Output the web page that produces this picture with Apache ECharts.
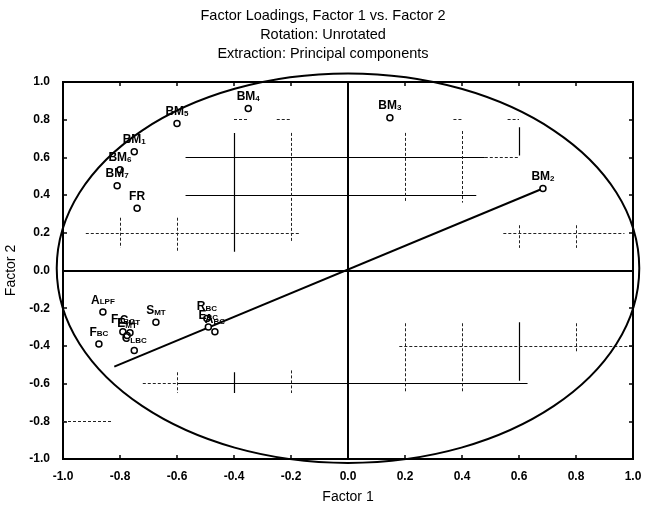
<!DOCTYPE html>
<html>
<head>
<meta charset="utf-8">
<script src="https://cdn.jsdelivr.net/npm/echarts@6/dist/echarts.min.js"></script>
<style>
  html, body { margin: 0; padding: 0; background: #fff; }
  #chart { width: 646px; height: 511px; }
</style>
</head>
<body>
<div id="chart"></div>
<script>
// Factor loadings: variable names (base + subscript) and their loadings on Factor 1 / Factor 2
const varBase = ['BM','BM','BM','BM','BM','BM','BM','FR','A','F','F','C','E','C','S','R','E','A'];
const varSub  = ['1','2','3','4','5','6','7','','LPF','BC','LBC','MT','MT','LBC','MT','BC','BC','BC'];
const factor1 = [-0.75, 0.684, 0.147, -0.35, -0.60, -0.80, -0.81, -0.74, -0.86, -0.874, -0.79, -0.765, -0.775, -0.75, -0.674, -0.495, -0.49, -0.467];
const factor2 = [0.63, 0.435, 0.81, 0.86, 0.78, 0.535, 0.45, 0.33, -0.22, -0.39, -0.325, -0.33, -0.345, -0.425, -0.275, -0.255, -0.30, -0.325];

// Vector drawn through the origin toward BM2
const vectorX = [-0.82, 0.684];
const vectorY = [-0.51, 0.435];

// Partial reference rules: horizontal [y, x1, x2], vertical [x, y1, y2]
const rulesH = [[0.6, -0.57, 0.48], [0.4, -0.57, 0.45], [-0.6, -0.6, 0.63]];
const rulesHDotted = [[0.6, 0.48, 0.6], [0.2, -0.92, -0.17], [0.2, 0.545, 0.97], [-0.4, 0.18, 1.0], [-0.6, -0.72, -0.6], [-0.8, -1.0, -0.83],
  [0.8, -0.4, -0.35], [0.8, -0.25, -0.2], [0.8, 0.37, 0.4], [0.8, 0.56, 0.6]];
const rulesV = [[-0.4, 0.73, 0.1], [-0.4, -0.54, -0.65], [0.6, 0.76, 0.61], [0.6, -0.275, -0.585]];
const rulesVDotted = [[-0.8, 0.28, 0.12], [-0.6, 0.28, 0.1], [-0.2, 0.73, 0.15], [0.2, 0.73, 0.36], [0.2, -0.28, -0.65],
  [0.4, 0.74, 0.36], [0.4, -0.28, -0.65], [0.6, 0.24, 0.12], [0.8, 0.24, 0.12], [0.8, -0.28, -0.43],
  [-0.6, -0.54, -0.65], [-0.2, -0.53, -0.65]];

// Ellipse of unit loadings: centre and radii in data units
const ellipseCenter = [0, 0.012];
const ellipseRadii = [1.022, 1.033];

const FONT = '"Liberation Sans", Arial, sans-serif';

function segH(list) { return list.map(r => ({ coords: [[r[1], r[0]], [r[2], r[0]]] })); }
function segV(list) { return list.map(r => ({ coords: [[r[0], r[1]], [r[0], r[2]]] })); }

const points = factor1.map((x, i) => ({
  value: [x, factor2[i]],
  label: { formatter: varSub[i] ? '{m|' + varBase[i] + '}{s|' + varSub[i] + '}' : '{m|' + varBase[i] + '}' }
}));

const axisCommon = {
  type: 'value', min: -1, max: 1, interval: 0.2,
  splitLine: { show: false },
  axisTick: { show: true, inside: true, length: 4, lineStyle: { color: '#000', width: 1.5 } }
};

const chart = echarts.init(document.getElementById('chart'), null, { renderer: 'canvas' });
chart.setOption({
  animation: false,
  backgroundColor: '#fff',
  title: {
    text: 'Factor Loadings, Factor 1 vs. Factor 2\nRotation: Unrotated\nExtraction: Principal components',
    left: 'center', top: 1,
    textStyle: { fontFamily: FONT, fontSize: 14.5, fontWeight: 'normal', color: '#000', lineHeight: 19 }
  },
  grid: {
    left: 63, right: 13, top: 82, bottom: 52,
    outerBoundsMode: 'none', containLabel: false,
    show: true, borderColor: '#000', borderWidth: 2, backgroundColor: 'transparent'
  },
  xAxis: [
    Object.assign({}, axisCommon, {
      position: 'bottom',
      name: 'Factor 1', nameLocation: 'middle', nameGap: 31,
      nameTextStyle: { fontFamily: FONT, fontSize: 14, color: '#000' },
      axisLine: { show: true, onZero: false, lineStyle: { color: '#000', width: 2 } },
      axisLabel: { margin: 12, fontFamily: FONT, fontSize: 12, fontWeight: 'bold', color: '#000', formatter: v => v.toFixed(1) }
    }),
    Object.assign({}, axisCommon, {
      position: 'top',
      axisLine: { show: true, onZero: false, lineStyle: { color: '#000', width: 2 } },
      axisLabel: { show: false }
    })
  ],
  yAxis: [
    Object.assign({}, axisCommon, {
      position: 'left',
      name: 'Factor 2', nameLocation: 'middle', nameGap: 43,
      nameTextStyle: { fontFamily: FONT, fontSize: 14, color: '#000' },
      axisLine: { show: true, onZero: false, lineStyle: { color: '#000', width: 2 } },
      axisLabel: { margin: 13, fontFamily: FONT, fontSize: 12, fontWeight: 'bold', color: '#000', formatter: v => v.toFixed(1) }
    }),
    Object.assign({}, axisCommon, {
      position: 'right',
      axisLine: { show: true, onZero: false, lineStyle: { color: '#000', width: 2 } },
      axisLabel: { show: false }
    })
  ],
  series: [
    {
      type: 'lines', coordinateSystem: 'cartesian2d', silent: true,
      data: segH(rulesH).concat(segV(rulesV)),
      lineStyle: { color: '#000', width: 1.2, opacity: 1 }
    },
    {
      type: 'lines', coordinateSystem: 'cartesian2d', silent: true,
      data: segH(rulesHDotted).concat(segV(rulesVDotted)),
      lineStyle: { color: '#222', width: 1, type: [3, 2], opacity: 1 }
    },
    {
      // zero reference lines
      type: 'line', data: [], silent: true,
      markLine: {
        symbol: 'none', silent: true, label: { show: false },
        lineStyle: { color: '#000', width: 2, type: 'solid' },
        data: [{ xAxis: 0 }, { yAxis: 0 }]
      }
    },
    {
      type: 'custom', silent: true, clip: false, z: 3,
      data: [ellipseCenter],
      renderItem: (params, api) => {
        const c = api.coord([api.value(0), api.value(1)]);
        const s = api.size([ellipseRadii[0], ellipseRadii[1]]);
        return {
          type: 'ellipse',
          shape: { cx: c[0], cy: c[1], rx: s[0], ry: s[1] },
          style: { fill: 'none', stroke: '#000', lineWidth: 2 }
        };
      }
    },
    {
      type: 'line', silent: true, z: 3,
      data: vectorX.map((x, i) => [x, vectorY[i]]),
      symbol: 'none',
      lineStyle: { color: '#000', width: 2 }
    },
    {
      type: 'scatter', z: 5,
      data: points,
      symbol: 'circle', symbolSize: 6,
      itemStyle: { color: '#fff', borderColor: '#000', borderWidth: 1.5, opacity: 1 },
      label: {
        show: true, position: 'top', distance: 2, color: '#000', opacity: 1,
        textBorderWidth: 0,
        rich: {
          m: { fontFamily: FONT, fontSize: 12, fontWeight: 'bold', color: '#000', lineHeight: 14, verticalAlign: 'bottom' },
          s: { fontFamily: FONT, fontSize: 8, fontWeight: 'bold', color: '#000', lineHeight: 14, verticalAlign: 'bottom', padding: [6, 0, 0, 0] }
        }
      }
    }
  ]
});
</script>
</body>
</html>
